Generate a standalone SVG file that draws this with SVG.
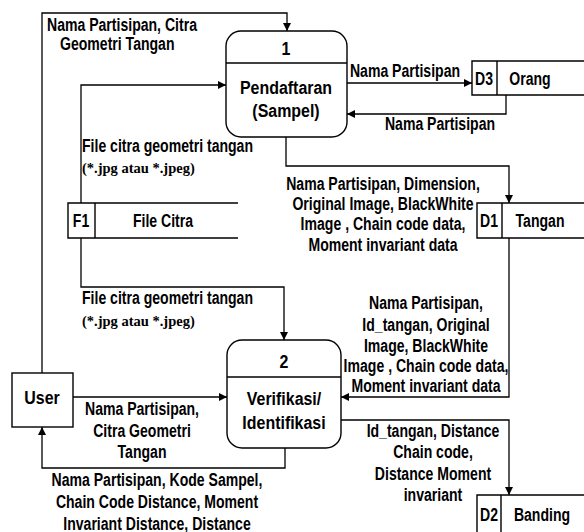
<svg xmlns="http://www.w3.org/2000/svg" width="584" height="532" viewBox="0 0 584 532">
<defs>
<marker id="arr" markerUnits="userSpaceOnUse" markerWidth="9" markerHeight="8" refX="8" refY="4" orient="auto">
<path d="M0,0 L8,4 L0,8 Z" fill="#000"/>
</marker>
<style>
.ln{fill:none;stroke:#000;stroke-width:1.3;marker-end:url(#arr)}
.bx{fill:#fff;stroke:#000;stroke-width:1.4}
.t{font-family:"Liberation Sans",Arial,sans-serif;font-weight:bold;font-size:18.5px;fill:#000}
.p{font-family:"Liberation Sans",Arial,sans-serif;font-weight:bold;font-size:19px;fill:#000;text-anchor:middle}
.s{font-family:"Liberation Serif","Times New Roman",serif;font-weight:bold;font-size:14.5px;fill:#000}
.m{text-anchor:middle}
</style>
</defs>
<rect width="584" height="532" fill="#fff"/>

<g id="connectors">
<path class="ln" d="M42,373 V13 H287 V31"/>
<path class="ln" d="M81,203 V85 H226"/>
<path class="ln" d="M81,238 V287 H284 V340"/>
<path class="ln" d="M347,83 H472"/>
<path class="ln" d="M506,95 V114 H347"/>
<path class="ln" d="M286,137 V166 H509 V203"/>
<path class="ln" d="M509,238 V397 H341"/>
<path class="ln" d="M341,420 H509 V495"/>
<path class="ln" d="M73,397 H227"/>
<path class="ln" d="M285,448 V468 H42 V427"/>
</g>

<g id="labels">
<text class="s" x="82" y="173">(*.jpg atau *.jpeg)</text>
<text class="s" x="82" y="326">(*.jpg atau *.jpeg)</text>
<text class="t" transform="translate(47 31) scale(0.76 1)">Nama Partisipan, Citra</text>
<text class="t" transform="translate(60 50) scale(0.76 1)">Geometri Tangan</text>
<text class="t m" transform="translate(405 77) scale(0.76 1)">Nama Partisipan</text>
<text class="t m" transform="translate(440 130) scale(0.76 1)">Nama Partisipan</text>
<text class="t" transform="translate(82 152) scale(0.76 1)">File citra geometri tangan</text>
<text class="t m" transform="translate(383 190) scale(0.76 1)">Nama Partisipan, Dimension,</text>
<text class="t m" transform="translate(383 210) scale(0.76 1)">Original Image, BlackWhite</text>
<text class="t m" transform="translate(383 230) scale(0.76 1)">Image , Chain code data,</text>
<text class="t m" transform="translate(383 251) scale(0.76 1)">Moment invariant data</text>
<text class="t" transform="translate(82 304) scale(0.76 1)">File citra geometri tangan</text>
<text class="t m" transform="translate(426 309) scale(0.76 1)">Nama Partisipan,</text>
<text class="t m" transform="translate(426 331) scale(0.76 1)">Id_tangan, Original</text>
<text class="t m" transform="translate(426 352) scale(0.76 1)">Image, BlackWhite</text>
<text class="t m" transform="translate(426 372) scale(0.76 1)">Image , Chain code data,</text>
<text class="t m" transform="translate(426 392) scale(0.76 1)">Moment invariant data</text>
<text class="t m" transform="translate(142 415) scale(0.76 1)">Nama Partisipan,</text>
<text class="t m" transform="translate(142 437) scale(0.76 1)">Citra Geometri</text>
<text class="t m" transform="translate(142 458) scale(0.76 1)">Tangan</text>
<text class="t m" transform="translate(433 437) scale(0.76 1)">Id_tangan, Distance</text>
<text class="t m" transform="translate(433 458) scale(0.76 1)">Chain code,</text>
<text class="t m" transform="translate(433 480) scale(0.76 1)">Distance Moment</text>
<text class="t m" transform="translate(433 501) scale(0.76 1)">invariant</text>
<text class="t m" transform="translate(157 486) scale(0.76 1)">Nama Partisipan, Kode Sampel,</text>
<text class="t m" transform="translate(157 508) scale(0.76 1)">Chain Code Distance, Moment</text>
<text class="t m" transform="translate(157 530) scale(0.76 1)">Invariant Distance,  Distance</text>
</g>

<g id="p1">
<rect class="bx" x="226" y="31" width="121" height="106" rx="15"/>
<line x1="226" y1="63" x2="347" y2="63" stroke="#000" stroke-width="1.4"/>
<text class="p" transform="translate(286 55) scale(0.84 1)">1</text>
<text class="p" transform="translate(286 94) scale(0.84 1)">Pendaftaran</text>
<text class="p" transform="translate(286 117) scale(0.84 1)">(Sampel)</text>
</g>

<g id="p2">
<rect class="bx" x="227" y="340" width="114" height="108" rx="15"/>
<line x1="227" y1="377" x2="341" y2="377" stroke="#000" stroke-width="1.4"/>
<text class="p" transform="translate(284 368) scale(0.84 1)">2</text>
<text class="p" transform="translate(284 405) scale(0.84 1)">Verifikasi/</text>
<text class="p" transform="translate(284 429) scale(0.84 1)">Identifikasi</text>
</g>

<g id="user">
<rect class="bx" x="12" y="373" width="61" height="54"/>
<text class="p" transform="translate(42 404) scale(0.84 1)">User</text>
</g>

<g id="f1">
<path d="M238,203 H68 V238 H238 M95,203 V238" fill="none" stroke="#000" stroke-width="1.4"/>
<text class="t m" transform="translate(81 227) scale(0.76 1)">F1</text>
<text class="t m" transform="translate(163 227) scale(0.76 1)">File Citra</text>
</g>

<g id="d3">
<path d="M584,61 H472 V95 H584 M497,61 V95" fill="none" stroke="#000" stroke-width="1.4"/>
<text class="t m" transform="translate(484 85) scale(0.76 1)">D3</text>
<text class="t m" transform="translate(530 85) scale(0.76 1)">Orang</text>
</g>

<g id="d1">
<path d="M584,203 H477 V238 H584 M502,203 V238" fill="none" stroke="#000" stroke-width="1.4"/>
<text class="t m" transform="translate(489 227) scale(0.76 1)">D1</text>
<text class="t m" transform="translate(540 227) scale(0.76 1)">Tangan</text>
</g>

<g id="d2">
<path d="M584,495 H477 V534 M501,495 V534" fill="none" stroke="#000" stroke-width="1.4"/>
<text class="t m" transform="translate(489 521) scale(0.76 1)">D2</text>
<text class="t m" transform="translate(542 521) scale(0.76 1)">Banding</text>
</g>
</svg>
